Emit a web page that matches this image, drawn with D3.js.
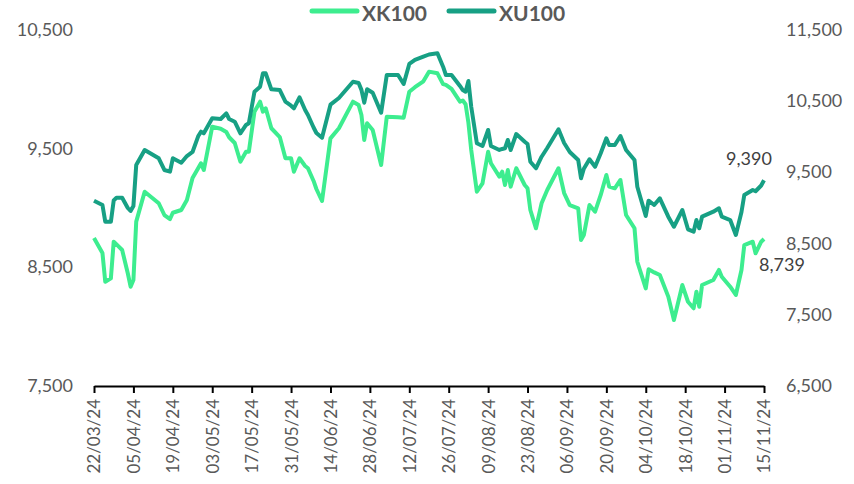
<!DOCTYPE html>
<html>
<head>
<meta charset="utf-8">
<script src="https://cdn.jsdelivr.net/npm/d3@7"></script>
<style>
body{margin:0;background:#fff}
svg text{font-family:Lato, "Open Sans", sans-serif;fill:#595959}
</style>
</head>
<body>
<svg id="chart" width="854" height="484"></svg>
<script>
var dates = ["2024-03-22","2024-03-25","2024-03-26","2024-03-28","2024-03-29","2024-03-30","2024-04-01","2024-04-03","2024-04-04","2024-04-05",
  "2024-04-06","2024-04-09","2024-04-14","2024-04-16","2024-04-18","2024-04-19","2024-04-22","2024-04-24","2024-04-26","2024-04-28",
  "2024-04-29","2024-04-30","2024-05-03","2024-05-06","2024-05-08","2024-05-09","2024-05-11","2024-05-13","2024-05-15","2024-05-16",
  "2024-05-18","2024-05-20","2024-05-21","2024-05-22","2024-05-24","2024-05-27","2024-05-29","2024-05-31","2024-06-01","2024-06-03",
  "2024-06-05","2024-06-06","2024-06-08","2024-06-09","2024-06-11","2024-06-14","2024-06-17","2024-06-22","2024-06-24","2024-06-25",
  "2024-06-26","2024-06-27","2024-06-29","2024-07-02","2024-07-04","2024-07-08","2024-07-10","2024-07-12","2024-07-14","2024-07-17",
  "2024-07-19","2024-07-22","2024-07-24","2024-07-25","2024-07-27","2024-07-30","2024-07-31","2024-08-01","2024-08-02","2024-08-03",
  "2024-08-05","2024-08-07","2024-08-09","2024-08-10","2024-08-13","2024-08-14","2024-08-15","2024-08-16","2024-08-17","2024-08-19",
  "2024-08-22","2024-08-23","2024-08-24","2024-08-26","2024-08-28","2024-08-30","2024-09-03","2024-09-05","2024-09-07","2024-09-10",
  "2024-09-11","2024-09-12","2024-09-14","2024-09-16","2024-09-18","2024-09-20","2024-09-21","2024-09-23","2024-09-25","2024-09-27",
  "2024-09-30","2024-10-01","2024-10-04","2024-10-05","2024-10-07","2024-10-09","2024-10-12","2024-10-14","2024-10-17","2024-10-19",
  "2024-10-21","2024-10-22","2024-10-23","2024-10-24","2024-10-28","2024-10-30","2024-10-31","2024-11-03","2024-11-05","2024-11-07",
  "2024-11-08","2024-11-11","2024-11-12","2024-11-14","2024-11-15"]

var xk100 = [8747, 8621, 8379, 8408, 8716, 8693, 8646, 8450, 8337, 8393,
  8885, 9137, 9040, 8941, 8907, 8960, 8983, 9067, 9253, 9335,
  9377, 9320, 9685, 9668, 9640, 9596, 9548, 9390, 9474, 9474,
  9812, 9896, 9812, 9840, 9672, 9598, 9419, 9419, 9306, 9419,
  9354, 9335, 9228, 9160, 9059, 9587, 9672, 9896, 9868, 9784,
  9573, 9714, 9657, 9362, 9769, 9764, 9761, 9980, 10018, 10068,
  10149, 10135, 10044, 10037, 10003, 9896, 9906, 9874, 9719, 9489,
  9137, 9208, 9474, 9377, 9264, 9306, 9194, 9320, 9180, 9335,
  9194, 9166, 8983, 8829, 9040, 9152, 9335, 9126, 9025, 8997,
  8730, 8772, 9025, 8969, 9110, 9278, 9180, 9166, 9236, 8941,
  8829, 8547, 8323, 8483, 8457, 8435, 8253, 8056, 8351, 8210,
  8155, 8295, 8168, 8351, 8393, 8478, 8421, 8337, 8267, 8478,
  8688, 8716, 8618, 8716, 8739]

var xu100 = [9103, 9042, 8808, 8808, 9105, 9145, 9145, 9000, 8958, 9028,
  9604, 9815, 9698, 9534, 9510, 9698, 9636, 9730, 9787, 10007,
  10072, 10049, 10260, 10250, 10330, 10250, 10212, 10049, 10166, 10190,
  10633, 10704, 10892, 10892, 10667, 10657, 10493, 10437, 10400, 10555,
  10376, 10306, 10131, 10053, 9987, 10451, 10545, 10774, 10756, 10659,
  10479, 10667, 10619, 10339, 10868, 10868, 10742, 11023, 11079, 11125,
  11156, 11173, 10985, 10868, 10868, 10714, 10657, 10633, 10784, 10423,
  9909, 9871, 10096, 9871, 9815, 9829, 9839, 9955, 9815, 10039,
  9931, 9899, 9650, 9558, 9720, 9843, 10105, 9913, 9787, 9674,
  9417, 9551, 9684, 9580, 9768, 9979, 9885, 9885, 10011, 9815,
  9674, 9299, 8888, 9103, 9042, 9136, 8878, 8737, 8972, 8701,
  8667, 8831, 8715, 8878, 8948, 8996, 8878, 8831, 8621, 8944,
  9183, 9253, 9235, 9316, 9390]

var tick_dates = ["2024-03-22","2024-04-05","2024-04-19","2024-05-03","2024-05-17","2024-05-31",
  "2024-06-14","2024-06-28","2024-07-12","2024-07-26","2024-08-09","2024-08-23",
  "2024-09-06","2024-09-20","2024-10-04","2024-10-18","2024-11-01","2024-11-15"]
var left_ticks = [7500, 8500, 9500, 10500]
var right_ticks = [6500, 7500, 8500, 9500, 10500, 11500]

var names = ["XK100", "XU100"]
var color = ["#3ded8f", "#17a084"]

var svg = d3.select("#chart")
var parse = d3.timeParse("%Y-%m-%d")
var fmt_num = d3.format(",")

var plot = {left: 94, right: 764, top: 30, bottom: 386}

var x = d3.scaleTime()
    .domain([parse(tick_dates[0]), parse(tick_dates[tick_dates.length - 1])])
    .range([plot.left, plot.right])
var y_left = d3.scaleLinear().domain([7500, 10500]).range([plot.bottom, plot.top])
var y_right = d3.scaleLinear().domain([6500, 11500]).range([plot.bottom, plot.top])

// left axis labels
svg.append("g").selectAll("text")
    .data(left_ticks)
    .enter()
    .append("text")
    .attr("x", 73)
    .attr("y", function(d){ return y_left(d) + 6 })
    .attr("text-anchor", "end")
    .attr("font-size", 18)
    .text(fmt_num)

// right axis labels
svg.append("g").selectAll("text")
    .data(right_ticks)
    .enter()
    .append("text")
    .attr("x", 786)
    .attr("y", function(d){ return y_right(d) + 6 })
    .attr("font-size", 18)
    .text(fmt_num)

// x axis
var x_axis = svg.append("g")
    .attr("transform", "translate(0," + plot.bottom + ")")
    .call(d3.axisBottom(x)
      .tickValues(tick_dates.map(parse))
      .tickSize(7)
      .tickSizeOuter(0)
      .tickFormat(d3.timeFormat("%d/%m/%y")))
x_axis.select(".domain").attr("stroke", "#000").attr("stroke-width", 2)
x_axis.selectAll(".tick line").attr("stroke", "#000").attr("stroke-width", 2)
x_axis.selectAll(".tick text")
    .attr("font-size", 17)
    .attr("fill", "#595959")
    .attr("transform", "rotate(-90)")
    .attr("text-anchor", "end")
    .attr("x", -13)
    .attr("y", 0)
    .attr("dy", "0.35em")

// lines
var series = [
  {name: names[0], values: xk100, y: y_left, color: color[0]},
  {name: names[1], values: xu100, y: y_right, color: color[1]}
]

series.forEach(function(s){
  var line = d3.line()
      .x(function(d, i){ return x(parse(dates[i])) })
      .y(function(d){ return s.y(d) })
  svg.append("path")
      .datum(s.values)
      .attr("fill", "none")
      .attr("stroke", s.color)
      .attr("stroke-width", 4)
      .attr("stroke-linejoin", "round")
      .attr("d", line)
})

// end labels
var last = dates.length - 1
svg.append("text")
    .attr("x", x(parse(dates[last])) - 15)
    .attr("y", y_right(xu100[last]) - 15)
    .attr("text-anchor", "middle")
    .attr("font-size", 18)
    .style("fill", "#404040")
    .text(fmt_num(xu100[last]))
svg.append("text")
    .attr("x", x(parse(dates[last])) - 5)
    .attr("y", y_left(xk100[last]) + 32)
    .attr("font-size", 18)
    .style("fill", "#404040")
    .text(fmt_num(xk100[last]))

// legend
var legend = svg.append("g").selectAll("g")
    .data(series)
    .enter()
    .append("g")
    .attr("transform", function(d, i){
      return "translate(" + (312 + i * 137) + ",11)"
    })
legend.append("line")
    .attr("x1", 0)
    .attr("x2", 45)
    .attr("stroke", function(d){ return d.color })
    .attr("stroke-width", 5)
    .attr("stroke-linecap", "round")
legend.append("text")
    .attr("x", 50)
    .attr("y", 10)
    .attr("font-size", 21)
    .attr("font-weight", "bold")
    .text(function(d){ return d.name })
</script>
</body>
</html>
